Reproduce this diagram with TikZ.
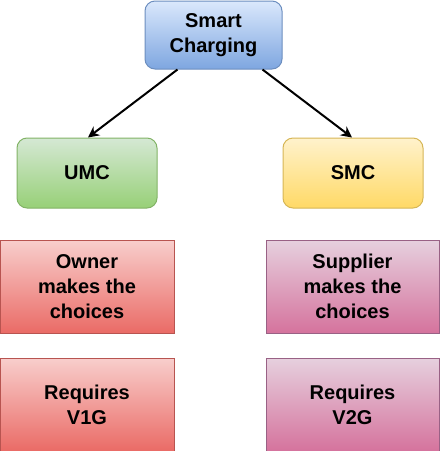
\documentclass[tikz,border=0pt]{standalone}
\usepackage{fontspec}
\setmainfont{Liberation Sans}
\usetikzlibrary{arrows.meta,positioning}

\definecolor{blueTop}{HTML}{DAE8FC}  \definecolor{blueBot}{HTML}{7EA6E0}  \definecolor{blueLine}{HTML}{6C8EBF}
\definecolor{greenTop}{HTML}{D5E8D4} \definecolor{greenBot}{HTML}{97D077} \definecolor{greenLine}{HTML}{82B366}
\definecolor{yellTop}{HTML}{FFF2CC}  \definecolor{yellBot}{HTML}{FFD966}  \definecolor{yellLine}{HTML}{D6B656}
\definecolor{redTop}{HTML}{F8CECC}   \definecolor{redBot}{HTML}{EA6B66}   \definecolor{redLine}{HTML}{B85450}
\definecolor{pinkTop}{HTML}{E6D0DE}  \definecolor{pinkBot}{HTML}{D5739D}  \definecolor{pinkLine}{HTML}{996185}

\tikzset{
  box/.style={align=center, inner sep=0pt, line width=1pt,
    font=\fontsize{20}{25}\selectfont\bfseries},
  topbox/.style={box, rounded corners=10pt},
  bluebox/.style={topbox, draw=blueLine, top color=blueTop, bottom color=blueBot,
    minimum width=137pt, minimum height=68pt},
  greenbox/.style={topbox, draw=greenLine, top color=greenTop, bottom color=greenBot,
    minimum width=140pt, minimum height=70pt},
  yellbox/.style={topbox, draw=yellLine, top color=yellTop, bottom color=yellBot,
    minimum width=140pt, minimum height=70pt},
  redbox/.style={box, draw=redLine, top color=redTop, bottom color=redBot,
    minimum width=174pt, minimum height=93pt},
  pinkbox/.style={box, draw=pinkLine, top color=pinkTop, bottom color=pinkBot,
    minimum width=173pt, minimum height=93pt},
  link/.style={line width=2pt, -{Stealth[length=11pt,width=11pt]}}
}

\begin{document}
\begin{tikzpicture}[x=1pt, y=-1pt]

  \useasboundingbox (0,0) rectangle (440,451);

  % ── Top level ─────────────────────────────────────────────────────────
  \node[bluebox] (smart) at (213.5, 35) {Smart\\Charging};

  % ── Two modes ─────────────────────────────────────────────────────────
  \node[greenbox] (umc) at (87, 173) {UMC};
  \node[yellbox]  (smc) at (353, 173) {SMC};

  \draw[link] ([xshift=-36pt]smart.south) -- ([xshift=1pt]umc.north);
  \draw[link] ([xshift=49pt]smart.south) -- ([xshift=-1pt]smc.north);

  % ── Properties ────────────────────────────────────────────────────────
  \node[redbox]  (owner)    at (87, 286.5)    {Owner\\makes the\\choices};
  \node[pinkbox] (supplier) at (352.5, 286.5) {Supplier\\makes the\\choices};

  \node[redbox]  (vonegen)  at (87, 404.5)    {Requires\\V1G};
  \node[pinkbox] (vtwogen)  at (352.5, 404.5) {Requires\\V2G};

\end{tikzpicture}
\end{document}
